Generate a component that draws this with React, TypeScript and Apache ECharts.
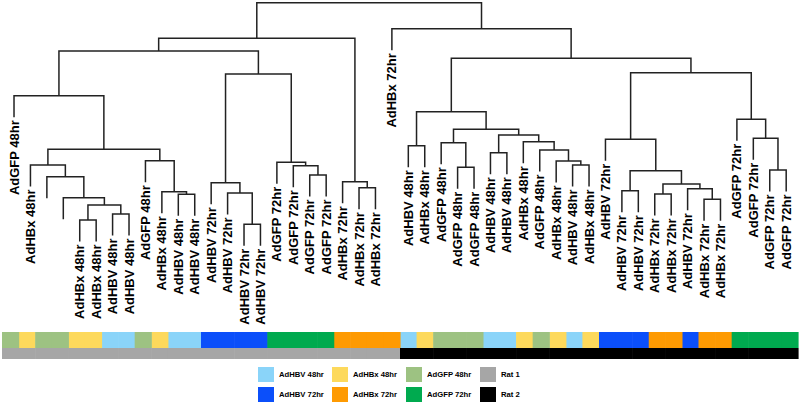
import React, { useEffect, useRef } from "react";
import * as echarts from "echarts";

// ---------- DATA ----------
const LEAF_LABELS: string[] = [
  "AdGFP 48hr", "AdHBx 48hr", "", "", "AdHBx 48hr", "AdHBx 48hr", "AdHBV 48hr", "AdHBV 48hr",
  "AdGFP 48hr", "AdHBx 48hr", "AdHBV 48hr", "AdHBV 48hr",
  "AdHBV 72hr", "AdHBV 72hr", "AdHBV 72hr", "AdHBV 72hr",
  "AdGFP 72hr", "AdGFP 72hr", "AdGFP 72hr", "AdGFP 72hr",
  "AdHBx 72hr", "AdHBx 72hr", "AdHBx 72hr", "AdHBx 72hr",
  "AdHBV 48hr", "AdHBx 48hr", "AdGFP 48hr", "AdGFP 48hr", "AdGFP 48hr", "AdHBV 48hr", "AdHBV 48hr",
  "AdHBx 48hr", "AdGFP 48hr", "AdHBx 48hr", "AdHBV 48hr", "AdHBx 48hr",
  "AdHBV 72hr", "AdHBV 72hr", "AdHBV 72hr", "AdHBx 72hr", "AdHBx 72hr", "AdHBV 72hr",
  "AdHBx 72hr", "AdHBx 72hr", "AdGFP 72hr", "AdGFP 72hr", "AdGFP 72hr", "AdGFP 72hr",
];

const LEAF_GROUPS: string[] = [
  "AdGFP 48hr", "AdHBx 48hr", "AdGFP 48hr", "AdGFP 48hr", "AdHBx 48hr", "AdHBx 48hr", "AdHBV 48hr", "AdHBV 48hr",
  "AdGFP 48hr", "AdHBx 48hr", "AdHBV 48hr", "AdHBV 48hr",
  "AdHBV 72hr", "AdHBV 72hr", "AdHBV 72hr", "AdHBV 72hr",
  "AdGFP 72hr", "AdGFP 72hr", "AdGFP 72hr", "AdGFP 72hr",
  "AdHBx 72hr", "AdHBx 72hr", "AdHBx 72hr", "AdHBx 72hr",
  "AdHBV 48hr", "AdHBx 48hr", "AdGFP 48hr", "AdGFP 48hr", "AdGFP 48hr", "AdHBV 48hr", "AdHBV 48hr",
  "AdHBx 48hr", "AdGFP 48hr", "AdHBx 48hr", "AdHBV 48hr", "AdHBx 48hr",
  "AdHBV 72hr", "AdHBV 72hr", "AdHBV 72hr", "AdHBx 72hr", "AdHBx 72hr", "AdHBV 72hr",
  "AdHBx 72hr", "AdHBx 72hr", "AdGFP 72hr", "AdGFP 72hr", "AdGFP 72hr", "AdGFP 72hr",
];

const LEAF_RATS: string[] = [
  ...Array(24).fill("Rat 1"),
  ...Array(24).fill("Rat 2"),
];

// [id, left child, right child, merge height]; number = leaf index, string = earlier merge
const MERGES: [string, number | string, number | string, number][] = [
  ["a1", 4, 5, 3.0],
  ["a2", 6, 7, 3.6],
  ["a3", "a1", "a2", 4.5],
  ["a4", 3, "a3", 5.23],
  ["a5", 2, "a4", 7.33],
  ["a6", 1, "a5", 8.5],
  ["b1", 10, 11, 5.57],
  ["b2", 9, "b1", 5.83],
  ["b3", 8, "b2", 8.93],
  ["a7", "a6", "b3", 10.07],
  ["a8", 0, "a7", 15.43],
  ["c1", 14, 15, 2.57],
  ["c2", 13, "c1", 5.7],
  ["c3", 12, "c2", 6.73],
  ["d1", 18, 19, 7.5],
  ["d2", 17, "d1", 8.43],
  ["d3", 16, "d2", 8.77],
  ["c4", "c3", "d3", 17.6],
  ["e", "a8", "c4", 19.9],
  ["f1", 21, 22, 6.23],
  ["f2", 20, "f1", 6.83],
  ["h", "e", "f2", 21.17],
  ["m1", 24, 25, 10.43],
  ["m2", 27, 28, 8.27],
  ["m3", 26, "m2", 10.73],
  ["m4", 29, 30, 9.73],
  ["m5", 34, 35, 8.5],
  ["m6", 33, "m5", 8.9],
  ["m7", 32, "m6", 10.0],
  ["m8", 31, "m7", 10.83],
  ["m9", "m4", "m8", 11.5],
  ["m10", "m3", "m9", 12.07],
  ["m11", "m1", "m10", 13.83],
  ["n1", 37, 38, 5.93],
  ["n2", 39, 40, 5.6],
  ["n3", 42, 43, 5.07],
  ["n4", 41, "n3", 6.13],
  ["n5", "n2", "n4", 6.6],
  ["n6", "n1", "n5", 7.93],
  ["n7", 36, "n6", 11.07],
  ["k1", 46, 47, 8.0],
  ["k2", 45, "k1", 11.17],
  ["k3", 44, "k2", 13.07],
  ["p", "n7", "k3", 17.73],
  ["q", "m11", "p", 19.17],
  ["g", 23, "q", 22.13],
  ["top", "h", "g", 24.73],
];

const LEAF_HANG = 2.15;

const TREATMENTS = ["AdHBV 48hr", "AdHBx 48hr", "AdGFP 48hr", "AdHBV 72hr", "AdHBx 72hr", "AdGFP 72hr"];
const RATS = ["Rat 1", "Rat 2"];
const COLORS: Record<string, string> = {
  "AdHBV 48hr": "#8ad4f9",
  "AdHBx 48hr": "#fdd95c",
  "AdGFP 48hr": "#9dc282",
  "AdHBV 72hr": "#0b4ffa",
  "AdHBx 72hr": "#fe9a02",
  "AdGFP 72hr": "#00aa4f",
  "Rat 1": "#a6a6a6",
  "Rat 2": "#000000",
};

// ---------- TREE LAYOUT ----------
function buildTree() {
  const mergeById: Record<string, { l: number | string; r: number | string; h: number }> = {};
  MERGES.forEach(([id, l, r, h]) => (mergeById[id] = { l, r, h }));
  const order: number[] = [];
  const visit = (n: number | string) => {
    if (typeof n === "number") order.push(n);
    else { visit(mergeById[n].l); visit(mergeById[n].r); }
  };
  visit("top");
  const leafPos: number[] = [];
  order.forEach((leaf, i) => (leafPos[leaf] = i));
  const nodeX: Record<string, number> = {};
  const xOf = (n: number | string): number => {
    if (typeof n === "number") return leafPos[n];
    if (nodeX[n] === undefined) nodeX[n] = (xOf(mergeById[n].l) + xOf(mergeById[n].r)) / 2;
    return nodeX[n];
  };
  const segs: number[][] = [];
  const leaves: number[][] = [];
  MERGES.forEach(([id, l, r, h]) => {
    const bottom = (c: number | string) => (typeof c === "number" ? h - LEAF_HANG : mergeById[c].h);
    segs.push([xOf(l), bottom(l), xOf(r), bottom(r), h]);
    [l, r].forEach((c) => {
      if (typeof c === "number") leaves.push([leafPos[c], h - LEAF_HANG, c]);
    });
  });
  return { segs, leaves, leafPos };
}

const FONT = '"Liberation Sans", Arial, sans-serif';

export default function App() {
  const ref = useRef<HTMLDivElement>(null);
  useEffect(() => {
    if (!ref.current) return;
    const chart = echarts.init(ref.current, undefined, { renderer: "svg" });
    const { segs, leaves, leafPos } = buildTree();

    const xAx = (gridIndex: number) => ({
      type: "value", gridIndex, min: -0.5, max: 47.5, show: false,
    });
    const yAx = (gridIndex: number, max: number) => ({
      type: "value", gridIndex, min: 0, max, show: false,
    });

    const rectRender = (params: any, api: any) => {
      const i = api.value(0);
      const a = api.coord([i - 0.5, 1]);
      const b = api.coord([i + 0.5, 0]);
      return {
        type: "rect",
        shape: { x: a[0], y: a[1], width: b[0] - a[0] + 0.6, height: b[1] - a[1] },
        style: { fill: api.visual("color") },
      };
    };

    const treatmentSeries = TREATMENTS.map((t) => ({
      name: t,
      type: "custom",
      xAxisIndex: 1,
      yAxisIndex: 1,
      color: COLORS[t],
      itemStyle: { color: COLORS[t] },
      renderItem: rectRender,
      data: LEAF_GROUPS.map((g, k) => (g === t ? [leafPos[k]] : null)).filter((d) => d),
      clip: false,
      silent: true,
    }));
    const ratSeries = RATS.map((t) => ({
      name: t,
      type: "custom",
      xAxisIndex: 2,
      yAxisIndex: 2,
      color: COLORS[t],
      itemStyle: { color: COLORS[t] },
      renderItem: rectRender,
      data: LEAF_RATS.map((g, k) => (g === t ? [leafPos[k]] : null)).filter((d) => d),
      clip: false,
      silent: true,
    }));

    const legendBase = {
      orient: "vertical",
      top: 367,
      itemWidth: 16,
      itemHeight: 15,
      itemGap: 5,
      padding: 0,
      icon: "rect",
      selectedMode: false,
      textStyle: { fontFamily: FONT, fontSize: 7.7, fontWeight: "bold", color: "#000" },
    };

    chart.setOption({
      animation: false,
      backgroundColor: "#fff",
      grid: [
        { left: 5.8, width: 788.6, top: 0, height: 250 },
        { left: 2, width: 796, top: 332, height: 16 },
        { left: 2, width: 796, top: 348, height: 11 },
      ],
      xAxis: [xAx(0), xAx(1), xAx(2)],
      yAxis: [yAx(0, 25), yAx(1, 1), yAx(2, 1)],
      legend: [
        { ...legendBase, left: 258, data: ["AdHBV 48hr", "AdHBV 72hr"] },
        { ...legendBase, left: 332, data: ["AdHBx 48hr", "AdHBx 72hr"] },
        { ...legendBase, left: 406, data: ["AdGFP 48hr", "AdGFP 72hr"] },
        { ...legendBase, left: 480, data: ["Rat 1", "Rat 2"] },
      ],
      series: [
        {
          type: "custom",
          name: "tree",
          xAxisIndex: 0,
          yAxisIndex: 0,
          clip: false,
          silent: true,
          data: segs,
          encode: { x: [0, 2], y: [1, 3, 4] },
          renderItem: (params: any, api: any) => {
            const p1b = api.coord([api.value(0), api.value(1)]);
            const p1t = api.coord([api.value(0), api.value(4)]);
            const p2t = api.coord([api.value(2), api.value(4)]);
            const p2b = api.coord([api.value(2), api.value(3)]);
            return {
              type: "polyline",
              shape: { points: [p1b, p1t, p2t, p2b] },
              style: { stroke: "#222", lineWidth: 1.5, fill: "none" },
            };
          },
        },
        {
          type: "custom",
          name: "labels",
          xAxisIndex: 0,
          yAxisIndex: 0,
          clip: false,
          silent: true,
          data: leaves,
          renderItem: (params: any, api: any) => {
            const p = api.coord([api.value(0), api.value(1)]);
            return {
              type: "text",
              x: p[0],
              y: p[1] + 3,
              rotation: Math.PI / 2,
              style: {
                text: LEAF_LABELS[api.value(2)],
                align: "right",
                verticalAlign: "middle",
                textAlign: "right",
                textVerticalAlign: "middle",
                font: `bold 13px ${FONT}`,
                fill: "#000",
              },
            };
          },
        },
        ...treatmentSeries,
        ...ratSeries,
      ],
    });
    return () => chart.dispose();
  }, []);
  return (
    <div
      ref={ref}
      style={{ position: "fixed", left: 0, top: 0, width: 800, height: 404, background: "#fff" }}
    />
  );
}
